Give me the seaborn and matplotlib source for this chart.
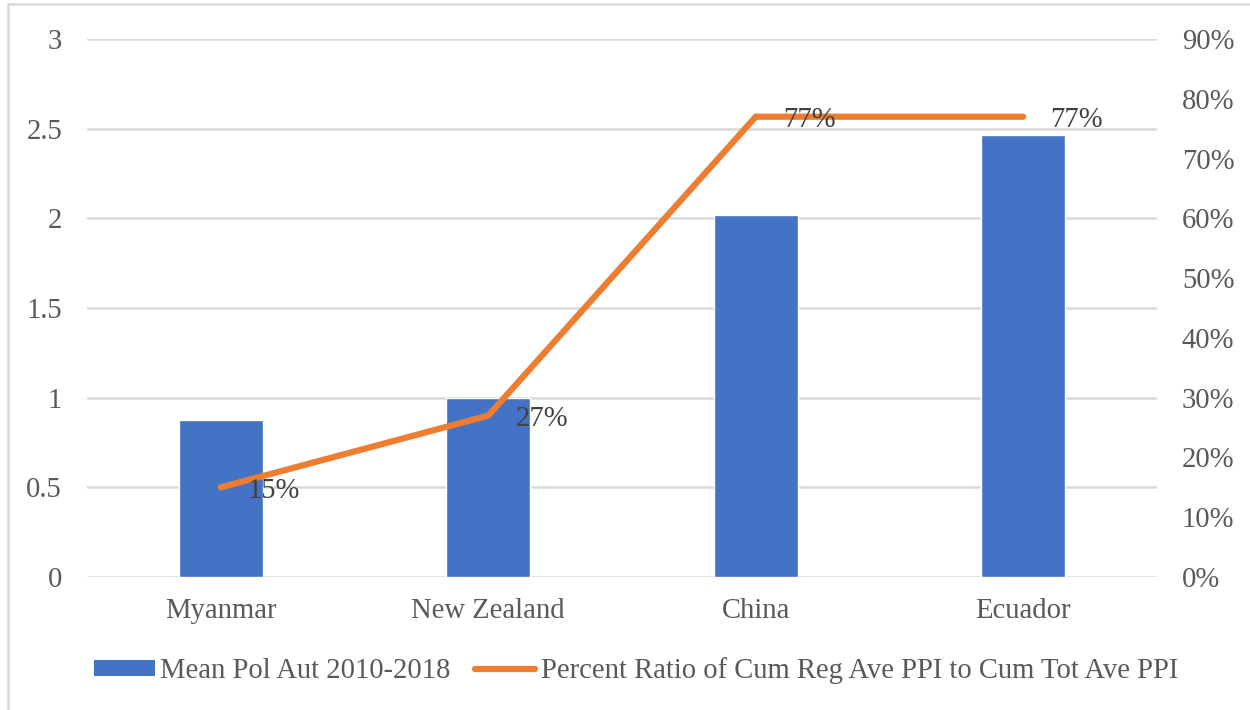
import matplotlib
matplotlib.use("Agg")
import matplotlib.pyplot as plt
from matplotlib.lines import Line2D
from matplotlib.patches import Patch
from matplotlib.ticker import FuncFormatter, MultipleLocator
import pandas as pd
import seaborn as sns

# Data
countries = ["Myanmar", "New Zealand", "China", "Ecuador"]
mean_pol_aut = [0.875, 1.0, 2.02, 2.465]
percent_ratio = [15, 27, 77, 77]

bar_label = "Mean Pol Aut 2010-2018"
line_label = "Percent Ratio of Cum Reg Ave PPI to Cum Tot Ave PPI"

BLUE = "#4472C4"
ORANGE = "#ED7D31"
GRID = "#D9D9D9"
TICK = "#595959"
LABEL = "#404040"

sns.set_theme(style="white")
plt.rcParams["font.family"] = ["Liberation Serif", "DejaVu Serif"]
FS = 20.6

df = pd.DataFrame({"country": countries, "mean": mean_pol_aut, "pct": percent_ratio})

fig = plt.figure(figsize=(12.5, 7.1), dpi=100)
ax = fig.add_axes([0.0696, 0.1873, 0.8560, 0.7578])

sns.barplot(data=df, x="country", y="mean", color=BLUE, width=0.314,
            saturation=1, ax=ax, zorder=2)
ax.set_ylim(0, 3)
ax.yaxis.set_major_locator(MultipleLocator(0.5))
ax.yaxis.set_major_formatter(FuncFormatter(lambda v, p: f"{v:g}"))
ax.grid(axis="y", color=GRID, linewidth=1.8, zorder=0)
ax.set_axisbelow(True)
ax.set_xlabel("")
ax.set_ylabel("")
for s in ax.spines.values():
    s.set_visible(False)
ax.tick_params(axis="y", length=0, pad=18, labelsize=FS, labelcolor=TICK)
ax.tick_params(axis="x", length=0, pad=15, labelsize=FS, labelcolor=TICK)

ax2 = ax.twinx()
sns.pointplot(data=df, x="country", y="pct", color=ORANGE, markers="",
              linewidth=4.5, errorbar=None, ax=ax2)
for ln in ax2.lines:
    ln.set_solid_capstyle("round")
    ln.set_solid_joinstyle("miter")
ax2.set_ylim(0, 90)
ax2.yaxis.set_major_locator(MultipleLocator(10))
ax2.yaxis.set_major_formatter(FuncFormatter(lambda v, p: f"{v:.0f}%"))
ax2.set_ylabel("")
ax2.set_xlabel("")
for s in ax2.spines.values():
    s.set_visible(False)
ax2.tick_params(axis="y", length=0, pad=18, labelsize=FS, labelcolor=TICK)
ax.set_xlim(-0.5, len(countries) - 0.5)

for i, v in enumerate(percent_ratio):
    ax2.annotate(f"{v}%", (i, v), xytext=(19.5, -2.5), textcoords="offset points",
                 ha="left", va="center", fontsize=FS, color=LABEL)

handles = [Patch(facecolor=BLUE, edgecolor="none"),
           Line2D([0], [0], color=ORANGE, linewidth=4.5, solid_capstyle="round")]
fig.legend(handles, [bar_label, line_label], loc="center", ncol=2,
           bbox_to_anchor=(0.509, 0.055), frameon=False, fontsize=FS,
           handlelength=2.1, handleheight=0.5, handletextpad=0.2,
           columnspacing=0.85, labelcolor=TICK)

# Outer frame (left and top edges)
fig.add_artist(Line2D([0.0064, 0.0064], [0, 0.9944], transform=fig.transFigure,
                      color=GRID, linewidth=1.8))
fig.add_artist(Line2D([0.0064, 1.0], [0.9944, 0.9944], transform=fig.transFigure,
                      color=GRID, linewidth=1.8))

fig.savefig("out.png", dpi=100)
